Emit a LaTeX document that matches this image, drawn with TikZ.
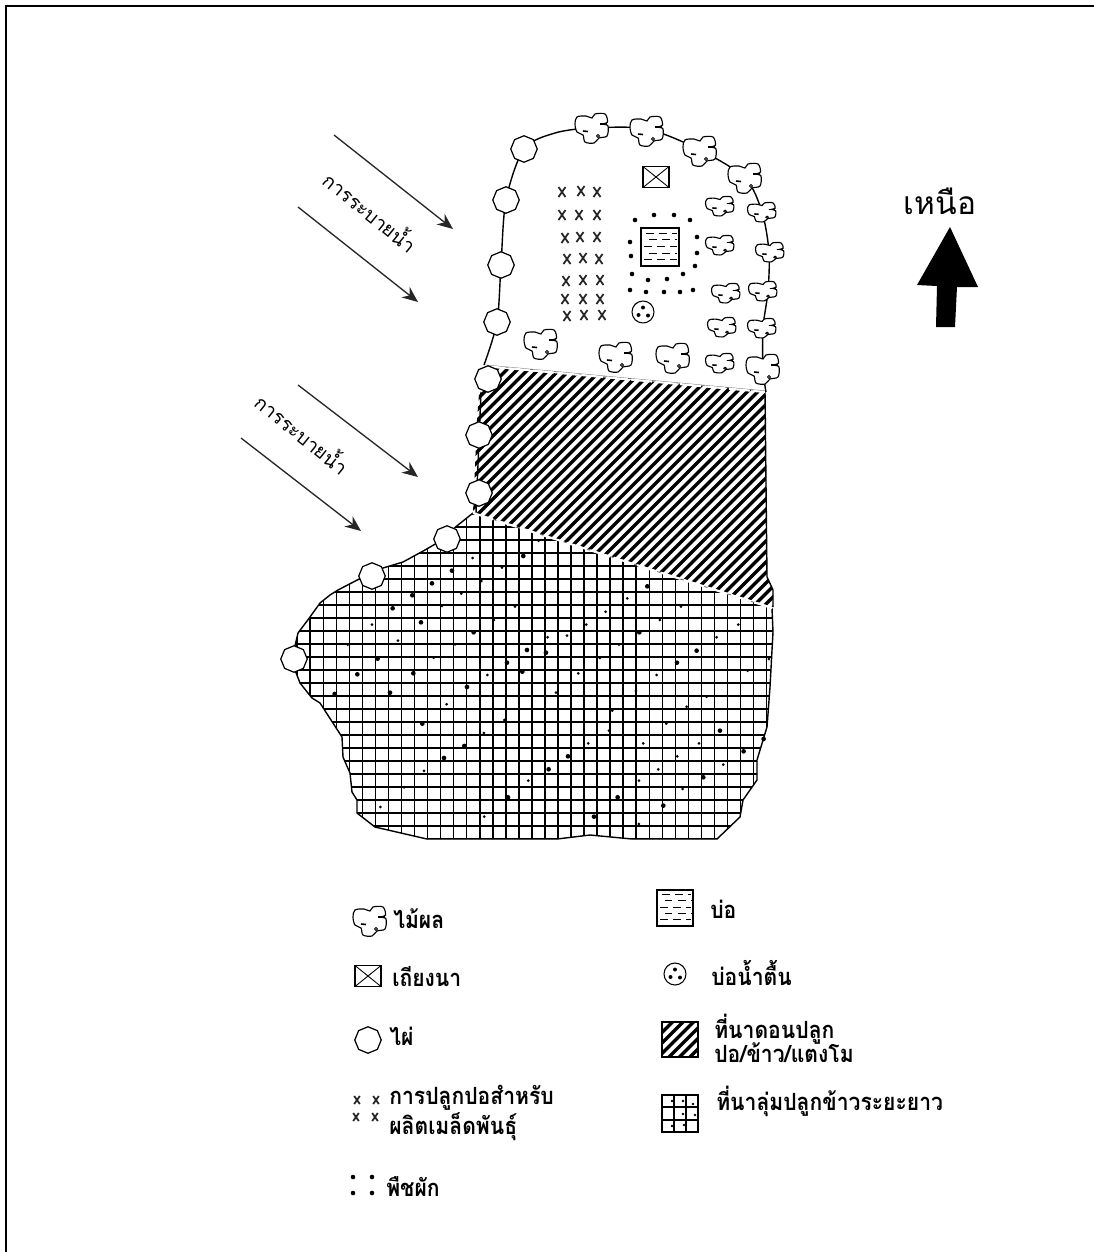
\documentclass[tikz,border=0pt]{standalone}
\usepackage{fontspec}
\newfontfamily\thaifont[Script=Thai]{Loma}
\usetikzlibrary{arrows.meta, shapes.geometric}

\begin{document}
\begin{tikzpicture}[
    x=0.02cm, y=-0.02cm,
    edge/.style={line width=0.8pt, line join=round},
    gridline/.style={line width=0.85pt},
    hatchline/.style={line width=1.95pt},
    bamboo/.style={draw, fill=white, line width=0.7pt, regular polygon, regular polygon sides=8,
        shape border rotate=22.5, inner sep=0pt, minimum size=0.53cm},
    drain/.style={draw=black!85, line width=0.75pt, -{Stealth[length=9pt, width=7.5pt]}},
    drainlabel/.style={font=\thaifont\fontsize{11}{13}\selectfont, rotate=-39, inner sep=0pt},
    legendtext/.style={font=\thaifont\bfseries\fontsize{13.5}{15}\selectfont, anchor=west, align=left,
        inner sep=0pt, xscale=0.89, transform shape},
    fruittree/.pic={
        \draw[line width=0.65pt, fill=white] plot[smooth cycle, tension=0.55] coordinates {
            (-15,-11) (-6,-12) (0,-10) (3,-14) (13,-14) (15.5,-6) (11,-4) (16,-2) (15,8) (7,10)
            (2,15) (-7,14) (-9,7) (-15,4) (-17,-4)};
        \draw[line width=0.9pt] (-9,3) -- (-4,3.5);
        \draw[line width=0.9pt] (8,-4) -- (15,-4);
        \draw[line width=0.5pt] (6,8) circle (1.6);
    },
    crossmark/.pic={
        \draw[line width=1pt, black!85] (-3.5,-5) -- (3.5,5);
        \draw[line width=1pt, black!85] (3.5,-5) -- (-3.5,5);
    },
    hutbox/.pic={
        \draw[line width=0.75pt, fill=white] (-13,-10.5) rectangle (13,10.5);
        \draw[line width=0.5pt] (-13,-10.5) -- (13,10.5);
        \draw[line width=0.5pt] (13,-10.5) -- (-13,10.5);
    },
    pondbox/.pic={
        \draw[line width=0.8pt, fill=white] (-19,-19) rectangle (19,19);
        \draw[line width=0.5pt, dash pattern=on 4.5pt off 3pt] (-14,-14) -- (17,-14);
        \draw[line width=0.5pt, dash pattern=on 4.5pt off 3pt] (-11,-8) -- (17,-8);
        \draw[line width=0.5pt, dash pattern=on 4.5pt off 3pt] (-16,-1) -- (17,-1);
        \draw[line width=0.5pt, dash pattern=on 4.5pt off 3pt] (-11,6) -- (17,6);
        \draw[line width=0.5pt, dash pattern=on 4.5pt off 3pt] (-16,12) -- (17,12);
    },
    wellmark/.pic={
        \draw[line width=0.6pt, fill=white] (0,0) circle (11);
        \fill (0,-4.5) circle (2);
        \fill (-4.5,3) circle (2);
        \fill (5,3.5) circle (2);
    },
]

\useasboundingbox (0,0) rectangle (1094,1252);

% =============================================================================
% Frame: only the top and the left side are printed
% =============================================================================
\draw[line width=1.4pt] (6,1252) -- (6,6) -- (1094,6);

% =============================================================================
% Lowland paddy: grid with scattered dots
% =============================================================================
\begin{scope}
    \clip (473,513) -- (458,525) -- (437,543) -- (425,550) -- (403,562) -- (383,568) -- (363,577)
        -- (338,590) -- (330,595) -- (320,603) -- (310,617) -- (298,633) -- (294,650) -- (295,670)
        -- (300,683) -- (312,698) -- (320,703) -- (342,737) -- (343,757) -- (350,773) -- (352,792)
        -- (357,800) -- (357,813) -- (375,827) -- (427,839) -- (557,839) -- (590,835) -- (632,839)
        -- (717,839) -- (740,817) -- (743,800) -- (757,780) -- (757,760) -- (767,727) -- (770,687)
        -- (773,632) -- (772,608) -- cycle;
    \foreach \gx in {297.2,310.24,...,775}
        \draw[gridline] (\gx,500) -- (\gx,845);
    \foreach \gy in {514,527,...,839}
        \draw[gridline] (285,\gy) -- (780,\gy);
\end{scope}
\draw[edge] (473,513) -- (458,525) -- (437,543) -- (425,550) -- (403,562) -- (383,568) -- (363,577)
    -- (338,590) -- (330,595) -- (320,603) -- (310,617) -- (298,633) -- (294,650) -- (295,670)
    -- (300,683) -- (312,698) -- (320,703) -- (342,737) -- (343,757) -- (350,773) -- (352,792)
    -- (357,800) -- (357,813) -- (375,827) -- (427,839) -- (557,839) -- (590,835) -- (632,839)
    -- (717,839) -- (740,817) -- (743,800) -- (757,780) -- (757,760) -- (767,727) -- (770,687)
    -- (773,632) -- (772,608);

% Dots, read off at three times the size
\begin{scope}[shift={(270,480)}, scale=0.3333]
    \foreach \dx/\dy in {608/234,696/263,634/303,574/341,516/378,735/380,806/182,306/434,672/420,
        384/482,233/494,555/493,833/472,891/467,949/434,1007/395,1072/355,1233/380,1170/420,1047/494,
        1340/472,1405/434,990/534,925/580,652/585,491/533,530/673,858/638,1098/633,1160/585,1310/650,
        1433/572,1497/537,1027/692,703/720,642/759,462/873,402/922,331/981,643/1010,775/902,955/790,
        1017/752,1120/790,1189/731,1250/680,1287/790,1222/829,1165/868,1107/902,1107/1032,1238/927,1360/854}
        \fill (\dx,\dy) circle (4.5);
    \foreach \dx/\dy in {760/228,546/272,486/310,427/346,368/385,453/427,611/457,1132/319,1108/457,1280/512,
        1221/548,828/518,771/510,711/548,757/575,430/580,323/536,262/583,194/642,360/638,591/621,457/731,
        583/798,522/834,714/952,836/868,894/829,1350/752,1043/952,972/1010,1180/977,1300/892,1421/814,1481/777}
        \fill (\dx,\dy) circle (7);
\end{scope}

% =============================================================================
% Upland paddy: diagonal hatching
% =============================================================================
\begin{scope}
    \clip (481,367) -- (765,391) -- (767,577) -- (773,590) -- (773,607) -- (473,513) -- (477,420) -- cycle;
    \foreach \hc in {845,855.5,...,1385}
        \draw[hatchline] ({\hc-340},340) -- ({\hc-640},640);
\end{scope}
\draw[edge] (481,392) -- (476,513);
\draw[edge] (765,391) -- (767,577) -- (773,590) -- (773,607);
\draw[line width=0.5pt, black!55] (484,365) -- (765,391);
\draw[line width=1.2pt, white, dash pattern=on 12pt off 2pt] (484,366) -- (765,392);
\draw[line width=0.5pt, black!55] (473,513) -- (772,608);
\draw[line width=1.2pt, white, dash pattern=on 12pt off 2pt] (473,513) -- (772,608);

% =============================================================================
% Homestead: boundary, bamboo and fruit trees
% =============================================================================
\draw[edge] plot[smooth, tension=0.5] coordinates {(484,365) (497,322) (501,265) (506,200) (524,149)
    (555,133) (592,128) (647,129) (700,150) (745,178) (762,212) (769,252) (768,291) (763,328) (763,369) (766,392)};

\node[bamboo] (bamboo1) at (524,149) {};
\node[bamboo] (bamboo2) at (506,200) {};
\node[bamboo] (bamboo3) at (501,265) {};
\node[bamboo] (bamboo4) at (497,322) {};
\node[bamboo] (bamboo5) at (488,379) {};
\node[bamboo] (bamboo6) at (479,435) {};
\node[bamboo] (bamboo7) at (479,493) {};
\node[bamboo] (bamboo8) at (447,539) {};
\node[bamboo] (bamboo9) at (372,576) {};
\node[bamboo] (bamboo10) at (294,659) {};

% Trees on the boundary
\foreach \tx/\ty in {592/128,647/131,700/151,745/178,763/369}
    \pic at (\tx,\ty) {fruittree};
\foreach \tx/\ty in {762/212,770/252,763/291,762/328}
    \pic[xscale=0.85, yscale=0.65] at (\tx,\ty) {fruittree};
% Trees inside
\foreach \tx/\ty in {541/344,616/357,673/358}
    \pic at (\tx,\ty) {fruittree};
\foreach \tx/\ty in {720/206,720/245,726/293,722/327,720/363}
    \pic[xscale=0.85, yscale=0.65] at (\tx,\ty) {fruittree};

% Seed plot
\foreach \cx/\cy in {562/192,581/191,597/192,562/215,579/215,597/215,565/238,580/237,597/237,567/259,583/258,
    599/259,566/281,583/280,600/280,565/299,583/299,600/299,567/316,584/315,602/315}
    \pic at (\cx,\cy) {crossmark};

% Pond, vegetables, hut and well
\pic at (660,247) {pondbox};
\foreach \vx/\vy in {635/220,654/215,674/215,690/220,630/242,631/256,632/274,648/280,667/279,683/274,
    697/237,697/253,695/266,630/290,646/292,664/292,680/292,693/290}
    \fill (\vx,\vy) circle (2.3);
\pic at (656,177) {hutbox};
\pic at (643,312) {wellmark};

% =============================================================================
% Drainage arrows
% =============================================================================
\coordinate (drain1a) at (334,135);
\coordinate (drain1b) at (453,229);
\coordinate (drain2a) at (298,207);
\coordinate (drain2b) at (418,302);
\coordinate (drain3a) at (298,385);
\coordinate (drain3b) at (418,477);
\coordinate (drain4a) at (241,438);
\coordinate (drain4b) at (361,531);
\draw[drain] (drain1a) -- (drain1b);
\draw[drain] (drain2a) -- (drain2b);
\draw[drain] (drain3a) -- (drain3b);
\draw[drain] (drain4a) -- (drain4b);
\node[drainlabel] (drainlbl1) at (371,211) {การระบายน้ำ};
\node[drainlabel] (drainlbl2) at (303,433) {การระบายน้ำ};

% =============================================================================
% North arrow
% =============================================================================
\node[font=\thaifont\fontsize{18}{20}\selectfont, inner sep=0pt] (northlbl) at (940,201) {เหนือ};
\fill (950,227) -- (978,287) -- (957,287) -- (955,327) -- (936,327) -- (937,286) -- (917,285) -- cycle;

% =============================================================================
% Legend, left column
% =============================================================================
\pic at (370,921) {fruittree};
\node[legendtext] (lfruit) at (393,919) {ไม้ผล};

\pic at (368,976) {hutbox};
\node[legendtext] (lhut) at (392,976) {เถียงนา};

\node[bamboo] (lbamboosym) at (368,1040) {};
\node[legendtext] (lbamboo) at (389,1036) {ไผ่};

\pic[scale=0.8] at (357,1100) {crossmark};
\pic[scale=0.8] at (376,1100) {crossmark};
\pic[scale=0.8] at (356,1117) {crossmark};
\pic[scale=0.8] at (375,1117) {crossmark};
\node[legendtext] (lseed) at (389,1113) {การปลูกปอสำหรับ\\ผลิตเมล็ดพันธุ์};

\fill (353,1177) circle (2.3);
\fill (372,1177) circle (2.3);
\fill (353,1193) circle (2.3);
\fill (372,1193) circle (2.3);
\node[legendtext] (lveg) at (386,1187) {พืชผัก};

% =============================================================================
% Legend, right column
% =============================================================================
\pic[scale=0.95] at (675,908) {pondbox};
\node[legendtext] (lpond) at (710,909) {บ่อ};

\pic at (675,974) {wellmark};
\node[legendtext] (lwell) at (711,973) {บ่อน้ำตื้น};

\begin{scope}
    \clip (662,1022) rectangle (698,1057);
    \foreach \hc in {1684,1694.5,...,1760}
        \draw[hatchline] ({\hc-1015},1015) -- ({\hc-1065},1065);
\end{scope}
\draw[line width=0.9pt] (662,1022) rectangle (698,1057);
\node[legendtext] (lupland) at (714,1038) {ที่นาดอนปลูก\\[-1.5pt]ปอ/ข้าว/แตงโม};

\draw[line width=0.9pt] (662,1095) rectangle (698,1132);
\foreach \gx in {674,686}
    \draw[gridline] (\gx,1095) -- (\gx,1132);
\foreach \gy in {1107,1120}
    \draw[gridline] (662,\gy) -- (698,\gy);
\foreach \dx/\dy in {672/1101,683/1101,693/1104,683/1114,695/1115,672/1126,684/1125}
    \fill (\dx,\dy) circle (1.4);
\node[legendtext] (llowland) at (716,1101) {ที่นาลุ่มปลูกข้าวระยะยาว};

\end{tikzpicture}
\end{document}
